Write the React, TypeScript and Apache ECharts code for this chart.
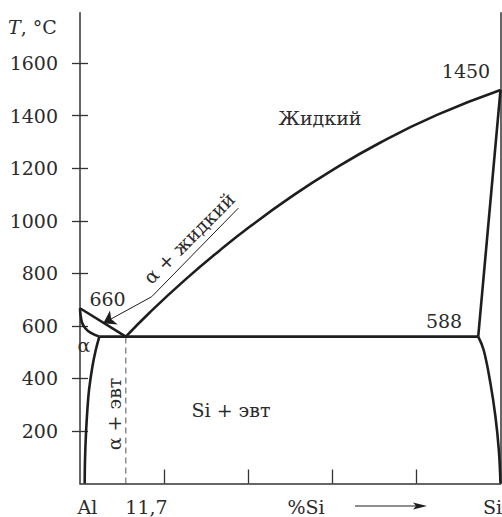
import React, { useEffect, useRef } from "react";
import * as echarts from "echarts";

// Tick values
const yTickValues = [200, 400, 600, 800, 1000, 1200, 1400, 1600];
const xTickValues = [20, 40, 60, 80];

// Phase boundaries (% Si, °C)
const alLiquidus = [[0, 667], [10.9, 559]];
const alSolidus = [[0, 667], [0.15, 640], [0.5, 612], [1.2, 592], [2.5, 574], [4.6, 559]];
const alSolvus = [[4.6, 559], [3.75, 508], [2.95, 445], [2.15, 356], [1.75, 280], [1.43, 192], [1.19, 89], [1.12, 0]];
const eutecticLine = [[4.6, 559], [94.7, 559]];
const liquidus = [
  [10.9, 559], [16.65, 652], [24.97, 775], [33.29, 888], [40.43, 978], [49.94, 1088],
  [59.45, 1187], [71.34, 1297], [84.9, 1403], [100, 1498],
];
const siLiquidus = [[100, 1498], [94.7, 559]];
const siSolvus = [[94.7, 559], [96.0, 508], [97.6, 382], [98.8, 254], [99.6, 128], [100, 0]];
const eutecticDashed = [[10.9, 0], [10.9, 559]];
const leaderArrow = [[17.05, 711], [5.54, 610]];
const leaderTail = [[17.05, 711], [37.65, 1048]];

const FONT = "DejaVu Serif";
const TXT = "#2b2b2b";
const LINE = "#1e1e1e";

function txt(text: string, x: number, y: number, extra: any = {}) {
  return {
    type: "text",
    x,
    y,
    rotation: extra.rotation || 0,
    style: {
      text,
      fill: TXT,
      fontSize: 19,
      fontFamily: FONT,
      align: extra.align || "center",
      verticalAlign: "middle",
      rich: extra.rich,
    },
  };
}

export default function App() {
  const ref = useRef<HTMLDivElement>(null);
  useEffect(() => {
    if (!ref.current) return;
    const chart = echarts.init(ref.current, undefined, { renderer: "svg" });
    const curve = (data: number[][], smooth: number | boolean = false) => ({
      type: "line",
      data,
      showSymbol: false,
      symbol: "none",
      smooth,
      lineStyle: { color: LINE, width: 2.6 },
      z: 3,
    });
    const yBase = { type: "value", min: 0, max: 1792, interval: 200 };
    chart.setOption({
      animation: false,
      grid: { left: 80, right: 1.5, top: 12.7, bottom: 33.5 },
      xAxis: {
        type: "value",
        min: 0,
        max: 100,
        interval: 20,
        splitLine: { show: false },
        axisLine: { show: true, lineStyle: { color: "#333", width: 1.5 } },
        axisTick: { show: true, inside: true, length: 14, customValues: xTickValues, lineStyle: { color: "#333", width: 1.3 } },
        axisLabel: { show: false },
      },
      yAxis: [
        {
          ...yBase,
          position: "left",
          splitLine: { show: false },
          axisLine: { show: true, lineStyle: { color: "#333", width: 1.5 } },
          axisTick: { show: true, inside: false, length: 8, customValues: yTickValues, lineStyle: { color: "#333", width: 1.3 } },
          axisLabel: {
            show: true,
            customValues: yTickValues,
            margin: 22,
            fontSize: 19,
            fontFamily: FONT,
            color: TXT,
            formatter: (v: number) => (yTickValues.indexOf(v) >= 0 ? String(v) : ""),
          },
        },
        {
          ...yBase,
          position: "left",
          splitLine: { show: false },
          axisLine: { show: false },
          axisTick: { show: true, inside: true, length: 8, customValues: yTickValues, lineStyle: { color: "#333", width: 1.3 } },
          axisLabel: { show: false },
        },
        {
          ...yBase,
          position: "right",
          splitLine: { show: false },
          axisLine: { show: true, lineStyle: { color: "#333", width: 1.5 } },
          axisTick: { show: false },
          axisLabel: { show: false },
        },
      ],
      series: [
        curve(alLiquidus),
        curve(alSolidus, 0.4),
        curve(alSolvus, 0.4),
        curve(eutecticLine),
        curve(liquidus, 0.5),
        curve(siLiquidus),
        curve(siSolvus, 0.4),
        {
          type: "line",
          data: eutecticDashed,
          symbol: "none",
          lineStyle: { color: "#555", width: 1, type: [6, 4] },
          z: 2,
        },
        {
          type: "lines",
          coordinateSystem: "cartesian2d",
          symbol: ["none", "arrow"],
          symbolSize: [7, 12],
          lineStyle: { color: LINE, width: 1, opacity: 1 },
          data: [{ coords: leaderArrow }],
          z: 4,
        },
        {
          type: "lines",
          coordinateSystem: "cartesian2d",
          symbol: ["none", "none"],
          lineStyle: { color: LINE, width: 1, opacity: 1 },
          data: [{ coords: leaderTail }],
          z: 4,
        },
      ],
      graphic: [
        txt("{i|T}, °C", 8, 27, { align: "left", rich: { i: { fontStyle: "italic", fontSize: 19, fontFamily: FONT, fill: TXT } } }),
        txt("Жидкий", 320, 118),
        txt("1450", 466, 71),
        txt("588", 444, 321),
        txt("660", 107.5, 299),
        txt("α", 84, 345),
        txt("α + жидкий", 189, 238, { rotation: Math.PI / 4 }),
        txt("α + эвт", 113.5, 414, { rotation: Math.PI / 2 }),
        txt("Si + эвт", 231, 410),
        txt("Al", 87.5, 507),
        txt("11,7", 146.5, 507),
        txt("%Si", 306, 507),
        txt("Si", 492.5, 507),
        {
          type: "line",
          shape: { x1: 355, y1: 506, x2: 420, y2: 506 },
          style: { stroke: LINE, lineWidth: 1.2 },
        },
        {
          type: "polygon",
          shape: { points: [[413, 502.5], [427, 506], [413, 509.5], [416, 506]] },
          style: { fill: LINE },
        },
      ],
    });
    return () => chart.dispose();
  }, []);
  return <div ref={ref} style={{ width: 502, height: 517, position: "absolute", left: 0, top: 0 }} />;
}
